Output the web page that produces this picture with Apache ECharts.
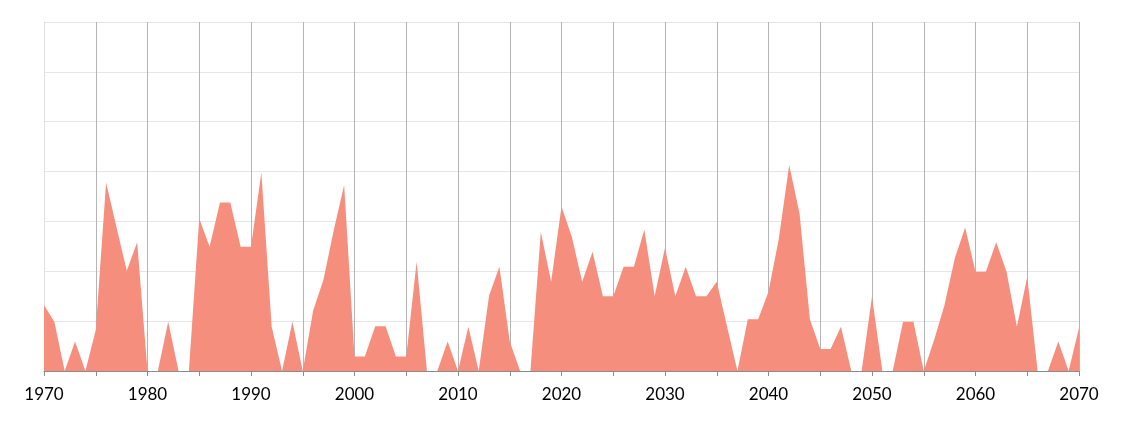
<!DOCTYPE html>
<html>
<head>
<meta charset="utf-8">
<script src="https://cdn.jsdelivr.net/npm/echarts@6/dist/echarts.min.js"></script>
<style>html,body{margin:0;padding:0;background:#fff}#c{width:1124px;height:423px}</style>
</head>
<body>
<div id="c"></div>
<script>
var years = [];
for (var y = 1970; y <= 2070; y++) years.push(y);
var values = [
  1.32, 0.99, 0, 0.59, 0, 0.82, 3.78, 2.89, 2.01, 2.58,   // 1970-1979
  0, 0, 0.99, 0, 0, 3.06, 2.49, 3.38, 3.38, 2.49,         // 1980-1989
  2.49, 3.98, 0.89, 0, 0.99, 0, 1.21, 1.83, 2.83, 3.73,   // 1990-1999
  0.29, 0.29, 0.90, 0.90, 0.29, 0.29, 2.19, 0, 0, 0.59,   // 2000-2009
  0, 0.89, 0, 1.51, 2.09, 0.59, 0, 0, 2.79, 1.79,         // 2010-2019
  3.30, 2.69, 1.79, 2.39, 1.50, 1.50, 2.09, 2.09, 2.84, 1.50, // 2020-2029
  2.47, 1.50, 2.09, 1.50, 1.50, 1.79, 0.89, 0, 1.04, 1.04,   // 2030-2039
  1.59, 2.66, 4.13, 3.16, 1.04, 0.44, 0.44, 0.89, 0, 0,      // 2040-2049
  1.49, 0, 0, 0.99, 0.99, 0, 0.62, 1.32, 2.26, 2.88,         // 2050-2059
  1.99, 1.99, 2.58, 1.99, 0.89, 1.89, 0, 0, 0.59, 0,         // 2060-2069
  0.86                                                       // 2070
];
var xLabels = ['1970','1980','1990','2000','2010','2020','2030','2040','2050','2060','2070'];

var seriesData = years.map(function (yr, i) { return [yr, values[i]]; });
var splitColors = [];
for (var k = 0; k <= 20; k++) splitColors.push(k === 0 ? '#e0e0e0' : '#b4b4b4');

var chart = echarts.init(document.getElementById('c'), null, {renderer: 'canvas'});
chart.setOption({
  animation: false,
  backgroundColor: '#ffffff',
  grid: {left: 44, right: 45, top: 22, bottom: 52},
  xAxis: {
    type: 'value', min: 1970, max: 2070, interval: 5,
    axisLine: {show: true, lineStyle: {color: '#8c8c8c', width: 1}},
    axisTick: {show: true, length: 5, lineStyle: {color: '#8c8c8c'}},
    splitLine: {show: true, lineStyle: {color: splitColors, width: 1}},
    axisLabel: {
      color: '#000000', fontSize: 17, fontFamily: 'Lato', margin: 15,
      formatter: function (v) { var s = String(v); return xLabels.indexOf(s) >= 0 ? s : ''; }
    }
  },
  yAxis: {
    type: 'value', min: 0, max: 7, interval: 1,
    axisLine: {show: false}, axisTick: {show: false}, axisLabel: {show: false},
    splitLine: {show: true, lineStyle: {color: '#e6e6e6', width: 1}}
  },
  series: [{
    type: 'line', data: seriesData, symbol: 'none', smooth: false,
    lineStyle: {width: 0, color: '#f68e7e'},
    areaStyle: {color: '#f68e7e', opacity: 1},
    z: 1
  }]
});
</script>
</body>
</html>
